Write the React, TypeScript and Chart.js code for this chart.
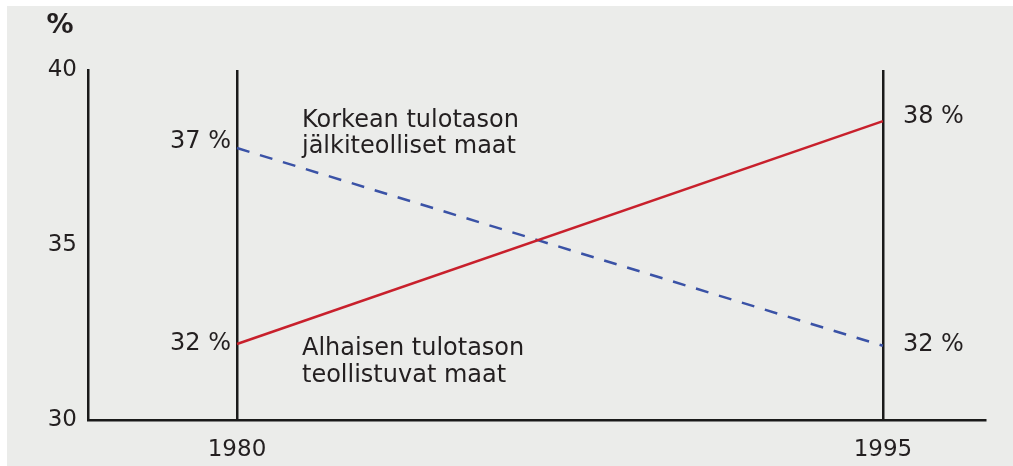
import React, { useEffect, useRef } from "react";
import { Chart, registerables } from "chart.js";

Chart.register(...registerables);

const years = [1980, 1995];
const highIncomePostIndustrial = [37.77, 32.12]; // Korkean tulotason jälkiteolliset maat
const lowIncomeIndustrializing = [32.17, 38.54]; // Alhaisen tulotason teollistuvat maat
const leftLabels = ["37 %", "32 %"];
const rightLabels = ["32 %", "38 %"];
const yTicks = [30, 35, 40];
const highLabel = ["Korkean tulotason", "jälkiteolliset maat"];
const lowLabel = ["Alhaisen tulotason", "teollistuvat maat"];
const unitLabel = "%";

const FONT = "'DejaVu Sans', sans-serif";
const TEXT = "#231f20";

const bgPlugin = {
  id: "bg",
  beforeDraw(chart: any) {
    const { ctx, width, height } = chart;
    ctx.save();
    ctx.fillStyle = "#ffffff";
    ctx.fillRect(0, 0, width, height);
    ctx.fillStyle = "#ebecea";
    ctx.fillRect(7, 6, width - 7, height - 6);
    ctx.restore();
  },
};

const textPlugin = {
  id: "texts",
  afterDatasetsDraw(chart: any) {
    const { ctx } = chart;
    const xs = chart.scales.x;
    const ys = chart.scales.y;
    ctx.save();
    ctx.fillStyle = TEXT;
    ctx.font = `24px ${FONT}`;
    ctx.textBaseline = "middle";
    const x0 = xs.getPixelForValue(years[0]);
    const x1 = xs.getPixelForValue(years[1]);
    // left value labels
    ctx.textAlign = "right";
    ctx.fillText(leftLabels[0], x0 - 6, ys.getPixelForValue(highIncomePostIndustrial[0]) - 6);
    ctx.fillText(leftLabels[1], x0 - 6, ys.getPixelForValue(lowIncomeIndustrializing[0]));
    // right value labels
    ctx.textAlign = "left";
    ctx.fillText(rightLabels[0], x1 + 20, ys.getPixelForValue(highIncomePostIndustrial[1]) - 1);
    ctx.fillText(rightLabels[1], x1 + 20, ys.getPixelForValue(lowIncomeIndustrializing[1]) - 4);
    // series annotations
    ctx.textBaseline = "alphabetic";
    const ax = x0 + 65;
    ctx.fillText(highLabel[0], ax, ys.getPixelForValue(38.37));
    ctx.fillText(highLabel[1], ax, ys.getPixelForValue(38.37) + 26);
    ctx.fillText(lowLabel[0], ax, ys.getPixelForValue(31.86));
    ctx.fillText(lowLabel[1], ax, ys.getPixelForValue(31.86) + 27);
    // unit
    ctx.font = `bold 27px ${FONT}`;
    ctx.textAlign = "center";
    ctx.textBaseline = "middle";
    ctx.fillText(unitLabel, 60, 26);
    ctx.restore();
  },
};

export default function App() {
  const ref = useRef<HTMLCanvasElement>(null);
  useEffect(() => {
    document.body.style.margin = "0";
    const chart = new Chart(ref.current!, {
      type: "line",
      data: {
        datasets: [
          {
            label: lowLabel.join(" "),
            data: years.map((x, i) => ({ x, y: lowIncomeIndustrializing[i] })),
            borderColor: "#c8202c",
            borderWidth: 2.5,
            pointRadius: 0,
            fill: false,
          },
          {
            label: highLabel.join(" "),
            data: years.map((x, i) => ({ x, y: highIncomePostIndustrial[i] })),
            borderColor: "#3a52a6",
            borderWidth: 2.5,
            borderDash: [13, 11],
            pointRadius: 0,
            fill: false,
          },
        ],
      },
      options: {
        animation: false,
        responsive: false,
        layout: { padding: { top: 70, right: 28, left: 0, bottom: 0 } },
        plugins: { legend: { display: false }, tooltip: { enabled: false } },
        scales: {
          x: {
            type: "linear",
            min: 1976.54,
            max: 1997.37,
            afterBuildTicks: (s: any) => {
              s.ticks = years.map((v) => ({ value: v }));
            },
            afterFit: (s: any) => {
              s.height = 46;
            },
            grid: { color: "#1a1a1a", lineWidth: 2.5, drawTicks: false },
            border: { color: "#1a1a1a", width: 2.5 },
            ticks: {
              color: TEXT,
              font: { family: FONT, size: 23 },
              padding: 16,
              maxRotation: 0,
              callback: (v: any) => String(v),
            },
          },
          y: {
            min: 30,
            max: 40,
            afterBuildTicks: (s: any) => {
              s.ticks = yTicks.map((v) => ({ value: v }));
            },
            afterFit: (s: any) => {
              s.width = 88;
            },
            grid: { display: false, drawTicks: false },
            border: { color: "#1a1a1a", width: 2.5 },
            ticks: {
              color: TEXT,
              font: { family: FONT, size: 23 },
              padding: 11,
              callback: (v: any) => String(v),
            },
          },
        },
      },
      plugins: [bgPlugin, textPlugin],
    });
    return () => chart.destroy();
  }, []);
  return (
    <div style={{ width: 1013, height: 466 }}>
      <canvas ref={ref} width={1013} height={466} style={{ display: "block" }} />
    </div>
  );
}
